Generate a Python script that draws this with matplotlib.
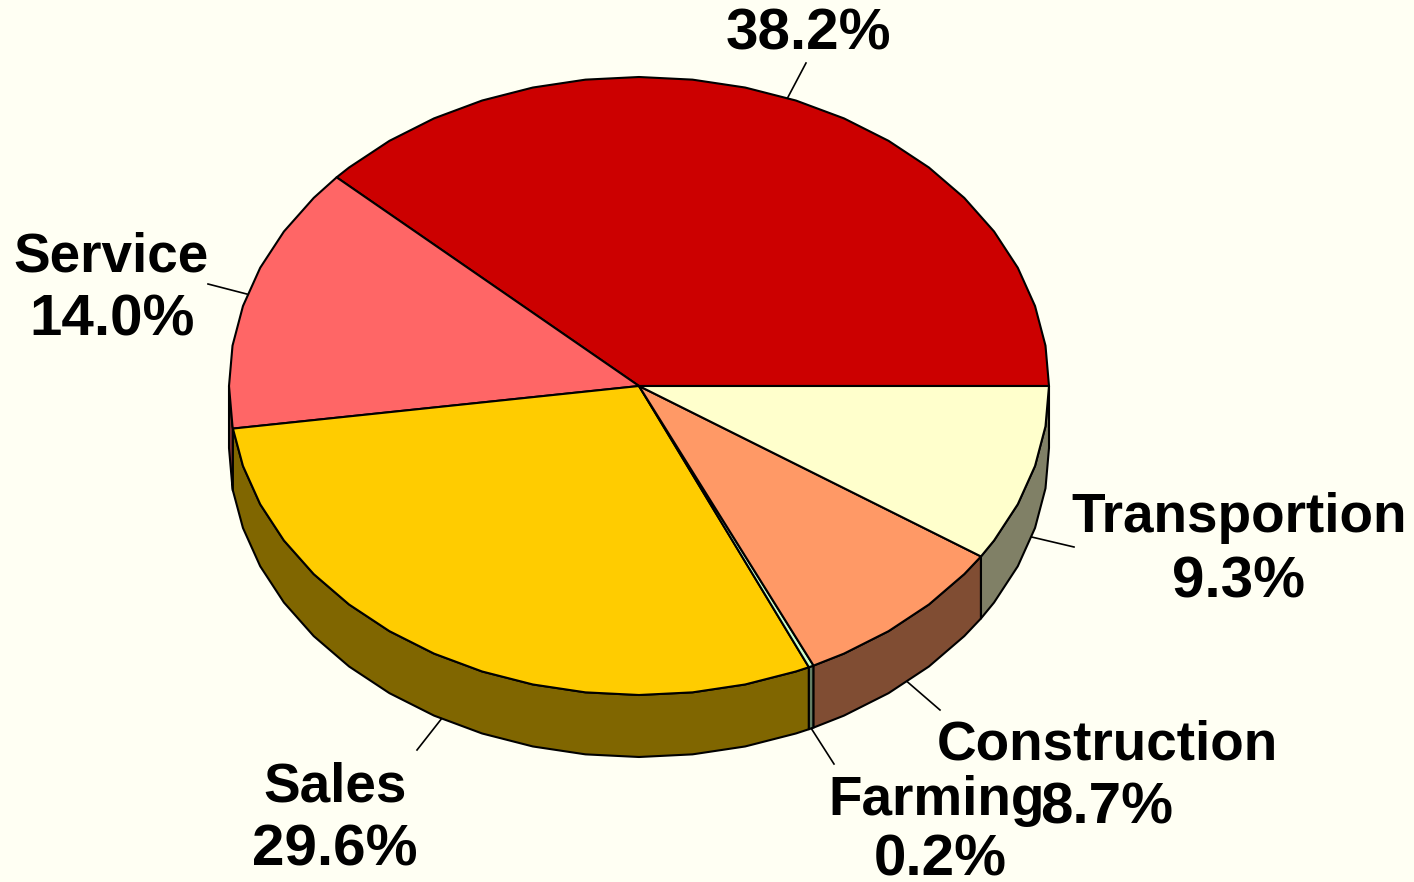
import matplotlib
matplotlib.use("Agg")
import numpy as np
import matplotlib.pyplot as plt
from matplotlib.transforms import Affine2D

# valores do grafico, a partir do eixo x no sentido anti-horario
labels = ["", "Service", "Sales", "Farming", "Construction", "Transportion"]
values = [38.2, 14.0, 29.6, 0.2, 8.7, 9.3]
top_colors = ["#CC0000", "#FF6666", "#FFCC00", "#CCFFCC", "#FF9966", "#FFFFCC"]
side_colors = ["#660000", "#803333", "#806600", "#668066", "#804D33", "#808066"]

W, H = 1414, 882
CX, CY, RX, RY, DEPTH = 639, 386, 410, 309, 62
BG = "#FFFFF3"
LW = 1.5
FACET = 7.5

# fim da linha guia e posicao do texto em pixels
leader_ends = [(806, 63), (208, 284), (417, 750), (834, 764), (940, 710), (1074, 547)]
name_pos = [None, (111, 272), (335, 801), (937, 815), (1107, 760), (1239, 532)]
pct_pos = [(808, 50), (112, 336), (335, 865), (940, 876), (1107, 824), (1239, 598)]

plt.rcParams["font.family"] = ["Liberation Sans", "DejaVu Sans"]


def to_data(px, py):
    return (px - CX) / RX, (CY - py) / RY


def arc_angles(a0, a1):
    # o contorno do original e levemente poligonal
    inner = np.arange(np.ceil(a0 / FACET) * FACET, a1, FACET)
    inner = inner[inner > a0]
    return np.radians(np.concatenate([[a0], inner, [a1]]))


fig = plt.figure(figsize=(W / 100, H / 100), dpi=100, facecolor=BG)
ax = fig.add_axes([0, 0, 1, 1])
pix = Affine2D().scale(1 / W, -1 / H).translate(0, 1) + fig.transFigure

edges = np.concatenate([[0], np.cumsum(values)]) / sum(values) * 360
depth = DEPTH / RY

# parede lateral, so a metade da frente aparece
for i in range(len(values)):
    a0, a1 = max(edges[i], 180), max(edges[i + 1], 180)
    if a1 <= a0:
        continue
    t = arc_angles(a0, a1)
    xs = np.concatenate([np.cos(t), np.cos(t[::-1])])
    ys = np.concatenate([np.sin(t), np.sin(t[::-1]) - depth])
    ax.fill(xs, ys, facecolor=side_colors[i], edgecolor="black", linewidth=LW,
            joinstyle="round", zorder=1)

# tampo
for i in range(len(values)):
    t = arc_angles(edges[i], edges[i + 1])
    xs = np.concatenate([[0], np.cos(t)])
    ys = np.concatenate([[0], np.sin(t)])
    ax.fill(xs, ys, facecolor=top_colors[i], edgecolor="black", linewidth=LW,
            joinstyle="round", zorder=2)

# linhas guia a partir do meio de cada fatia
for i in range(len(values)):
    mid = np.radians((edges[i] + edges[i + 1]) / 2)
    x0, y0 = np.cos(mid), np.sin(mid)
    if mid > np.pi:
        y0 -= depth
    x1, y1 = to_data(*leader_ends[i])
    ax.plot([x0, x1], [y0, y1], color="black", linewidth=1.2, zorder=3)

for i in range(len(values)):
    if labels[i]:
        ax.text(*name_pos[i], labels[i], transform=pix, ha="center", va="baseline",
                fontsize=39.5, fontweight="bold", color="black", zorder=4)
    ax.text(*pct_pos[i], f"{values[i]:.1f}%", transform=pix, ha="center", va="baseline",
            fontsize=42, fontweight="bold", color="black", zorder=4)

ax.set_aspect("auto")
ax.set_xlim(-CX / RX, (W - CX) / RX)
ax.set_ylim((CY - H) / RY, CY / RY)
ax.axis("off")

fig.savefig("out.png", dpi=100, facecolor=BG)
